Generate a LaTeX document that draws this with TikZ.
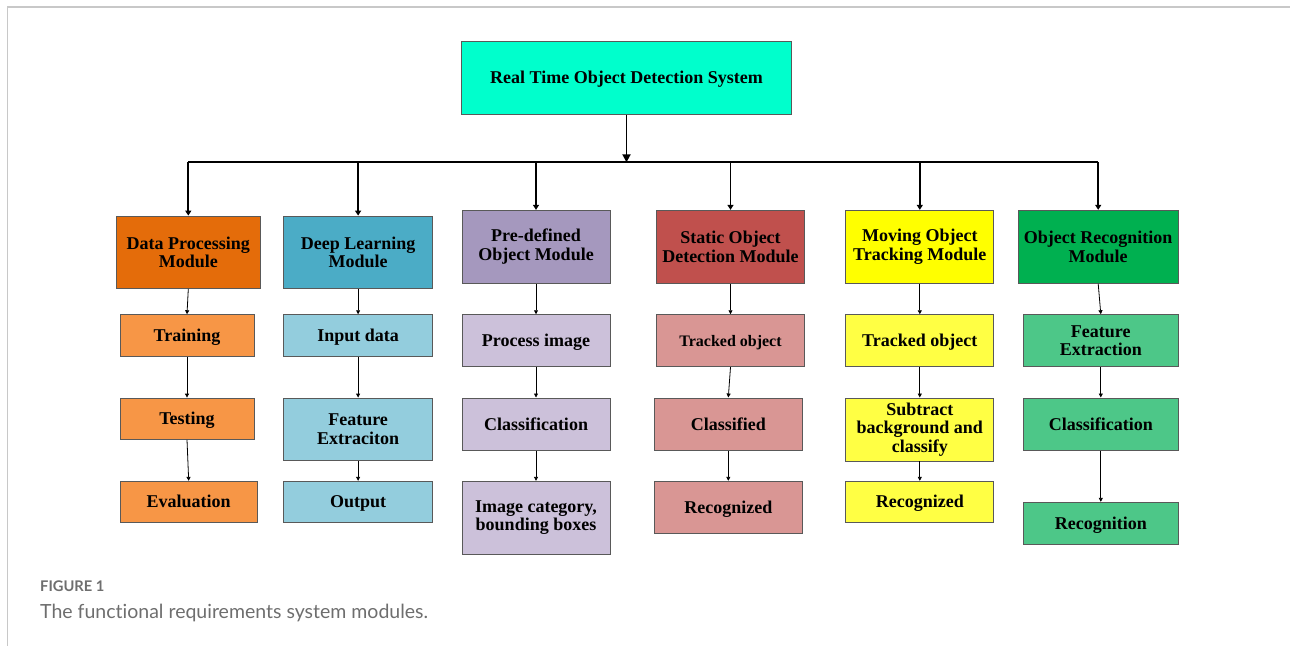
\documentclass[tikz,border=0pt]{standalone}
\usepackage{fontspec}
\setmainfont{Liberation Serif}
\newfontfamily\capfont[Ligatures=NoCommon]{Lato}
\usetikzlibrary{arrows.meta}

% box fills
\definecolor{topfill}{HTML}{00FFCC}
\definecolor{dpfill}{HTML}{E46C0A}
\definecolor{dlfill}{HTML}{4BACC6}
\definecolor{pdfill}{HTML}{A598BE}
\definecolor{sofill}{HTML}{C0504D}
\definecolor{mofill}{HTML}{FFFF00}
\definecolor{orfill}{HTML}{00B050}
\definecolor{dpsub}{HTML}{F79646}
\definecolor{dlsub}{HTML}{93CDDD}
\definecolor{pdsub}{HTML}{CCC1DA}
\definecolor{sosub}{HTML}{D99694}
\definecolor{mosub}{HTML}{FFFF44}
\definecolor{orsub}{HTML}{4DC788}
\definecolor{boxline}{HTML}{595959}
\definecolor{framegray}{HTML}{C8C8C8}
\definecolor{capgray}{HTML}{6E6E6E}

\tikzset{
  box/.style={draw=boxline, line width=0.9pt, inner sep=0pt, align=center,
    font=\fontsize{18}{18.5}\selectfont\bfseries},
  single/.style={text height=15.9pt, text depth=4pt},
  bigarrow/.style={line width=1.9pt, -{Triangle[length=8pt,width=8pt]}},
  modarrow/.style={line width=1.9pt, -{Triangle[length=5pt,width=6pt]}},
  subarrow/.style={line width=0.8pt, -{Triangle[length=4pt,width=4pt]}},
  busline/.style={line width=1.9pt},
}

\begin{document}
\begin{tikzpicture}[x=1pt,y=-1pt]
\useasboundingbox (0,0) rectangle (1290,646);

% page frame
\draw[framegray, line width=1.2pt] (1290,7) -- (7.5,7) -- (7.5,646);

% root
\node[box, single, fill=topfill, minimum width=329.5pt, minimum height=72.5pt] (top) at (626.5,78)
  {Real Time Object Detection System};

% modules
\node[box, fill=dpfill, minimum width=144pt,   minimum height=72.3pt] (dp) at (188.3,252.2) {Data Processing\\Module};
\node[box, fill=dlfill, minimum width=148.8pt, minimum height=72.3pt] (dl) at (358.1,252.2) {Deep Learning\\Module};
\node[box, fill=pdfill, minimum width=148pt,   minimum height=73pt]   (pd) at (536,246.8)   {Pre-defined\\Object Module};
\node[box, fill=sofill, minimum width=148.4pt, minimum height=73pt]   (so) at (730.5,246.8) {Static Object\\Detection Module};
\node[box, fill=mofill, minimum width=148pt,   minimum height=73pt]   (mo) at (919.8,246.8) {Moving Object\\Tracking Module};
\node[box, fill=orfill, minimum width=159.7pt, minimum height=73pt]   (or) at (1098.2,246.8) {Object Recognition\\Module};

% data processing column
\node[box, single, fill=dpsub, minimum width=134pt,   minimum height=41.6pt] (dp1) at (187,335.5)   {Training};
\node[box, single, fill=dpsub, minimum width=134pt,   minimum height=41.3pt] (dp2) at (187,418.7)   {Testing};
\node[box, single, fill=dpsub, minimum width=137.3pt, minimum height=41.4pt] (dp3) at (188.7,502)   {Evaluation};

% deep learning column
\node[box, single, fill=dlsub, minimum width=148.8pt, minimum height=41.6pt] (dl1) at (358.1,335.5) {Input data};
\node[box, fill=dlsub, minimum width=148.8pt, minimum height=62.7pt] (dl2) at (358.1,429.4) {Feature\\Extraciton};
\node[box, single, fill=dlsub, minimum width=148.8pt, minimum height=41.4pt] (dl3) at (358.1,502)   {Output};

% pre-defined object column
\node[box, single, fill=pdsub, minimum width=148pt, minimum height=52pt]   (pd1) at (536,340.7) {Process image};
\node[box, single, fill=pdsub, minimum width=148pt, minimum height=52.3pt] (pd2) at (536,424.1) {Classification};
\node[box, fill=pdsub, minimum width=148pt, minimum height=73pt]   (pd3) at (536,517.8) {Image category,\\bounding boxes};

% static object column
\node[box, single, fill=sosub, minimum width=148.4pt, minimum height=52pt, font=\fontsize{16}{17}\selectfont\bfseries,
      text height=14.6pt, text depth=4pt] (so1) at (730.5,340.7) {Tracked object};
\node[box, single, fill=sosub, minimum width=148pt, minimum height=52.3pt] (so2) at (728.3,424.1) {Classified};
\node[box, single, fill=sosub, minimum width=148pt, minimum height=52pt]   (so3) at (728.3,507.3) {Recognized};

% moving object column
\node[box, single, fill=mosub, minimum width=148pt, minimum height=52pt]   (mo1) at (919.8,340.7) {Tracked object};
\node[box, fill=mosub, minimum width=148pt, minimum height=63pt]   (mo2) at (919.8,429.5) {Subtract\\background and\\classify};
\node[box, single, fill=mosub, minimum width=148pt, minimum height=41.4pt] (mo3) at (919.8,502)   {Recognized};

% object recognition column
\node[box, fill=orsub, minimum width=154.3pt, minimum height=52pt]   (or1) at (1100.8,340.7) {Feature\\Extraction};
\node[box, single, fill=orsub, minimum width=154.3pt, minimum height=52.3pt] (or2) at (1100.8,424.1) {Classification};
\node[box, single, fill=orsub, minimum width=154.3pt, minimum height=42pt]   (or3) at (1100.8,523.3) {Recognition};

% distribution bus
\coordinate (busL) at (188.3,162.3);
\coordinate (busR) at (1098.2,162.3);
\draw[busline] (busL) -- (busR);
\draw[bigarrow] (top.south) -- (top.south |- busL);
\foreach \m in {dp,dl,pd,so,mo,or}
  \draw[modarrow] (\m.north |- busL) -- (\m.north);

% column flows
\foreach \a/\b in {dp/dp1,dp1/dp2,dp2/dp3,
                   dl/dl1,dl1/dl2,dl2/dl3,
                   pd/pd1,pd1/pd2,pd2/pd3,
                   so/so1,so1/so2,so2/so3,
                   mo/mo1,mo1/mo2,mo2/mo3,
                   or/or1,or1/or2,or2/or3}
  \draw[subarrow] (\a.south) -- (\b.north);

% caption
\node[anchor=base west, inner sep=0pt, text=capgray, font=\capfont\bfseries\fontsize{14.7}{16}\selectfont] (figlabel) at (40,591.5) {FIGURE 1};
\node[anchor=base west, inner sep=0pt, text=capgray, font=\capfont\fontsize{19.5}{21}\selectfont] (figtext) at (40,618) {The functional requirements system modules.};
\end{tikzpicture}
\end{document}
